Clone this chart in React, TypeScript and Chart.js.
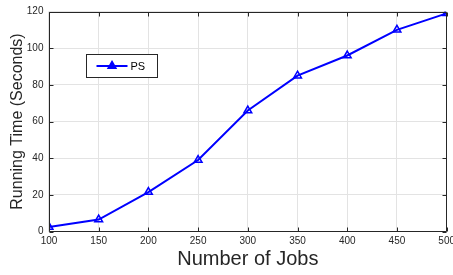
import React, { useEffect, useRef } from "react";
import { Chart, registerables } from "chart.js";

Chart.register(...registerables);

const jobs = [100, 150, 200, 250, 300, 350, 400, 450, 500];
const psTimes = [2.5, 6.5, 21.5, 39, 66, 85, 96, 110, 119];
const seriesLabel = "PS";
const xTitle = "Number of Jobs";
const yTitle = "Running Time (Seconds)";

const FONT = "'Liberation Sans', Arial, Helvetica, sans-serif";
const AXIS_COLOR = "#262626";
const BLUE = "#0000ff";

const boxPlugin = {
  id: "matlabBox",
  afterDraw(chart: any) {
    const { ctx, chartArea } = chart;
    const { left, right, top, bottom } = chartArea;
    const xs = chart.scales.x;
    const ys = chart.scales.y;
    const L = Math.round(left) + 0.5;
    const R = Math.round(right) - 0.5;
    const T = Math.round(top) + 0.5;
    const B = Math.round(bottom) - 0.5;
    ctx.save();
    ctx.strokeStyle = AXIS_COLOR;
    ctx.lineWidth = 1;
    ctx.beginPath();
    ctx.rect(L, T, R - L, B - T);
    ctx.stroke();
    const tl = 4;
    ctx.beginPath();
    xs.ticks.forEach((t: any) => {
      const px = Math.round(xs.getPixelForValue(t.value)) + 0.5;
      ctx.moveTo(px, B);
      ctx.lineTo(px, B - tl);
      ctx.moveTo(px, T);
      ctx.lineTo(px, T + tl);
    });
    ys.ticks.forEach((t: any) => {
      const py = Math.round(ys.getPixelForValue(t.value)) + 0.5;
      ctx.moveTo(L, py);
      ctx.lineTo(L + tl, py);
      ctx.moveTo(R, py);
      ctx.lineTo(R - tl, py);
    });
    ctx.stroke();

    // legend box
    const lx = Math.round(left + 37) + 0.5;
    const ly = Math.round(top + 42) + 0.5;
    const lw = 71;
    const lh = 23;
    ctx.fillStyle = "#ffffff";
    ctx.fillRect(lx, ly, lw, lh);
    ctx.strokeStyle = AXIS_COLOR;
    ctx.strokeRect(lx, ly, lw, lh);
    const cy = ly + lh / 2;
    ctx.strokeStyle = BLUE;
    ctx.lineWidth = 2;
    ctx.beginPath();
    ctx.moveTo(lx + 10, cy);
    ctx.lineTo(lx + 41, cy);
    ctx.stroke();
    const cx = lx + 25.5;
    const r = 4.5;
    ctx.lineWidth = 1.5;
    ctx.fillStyle = BLUE;
    ctx.beginPath();
    ctx.moveTo(cx, cy - r);
    ctx.lineTo(cx + r * 0.87, cy + r * 0.5);
    ctx.lineTo(cx - r * 0.87, cy + r * 0.5);
    ctx.closePath();
    ctx.fill();
    ctx.stroke();
    ctx.fillStyle = "#000000";
    ctx.font = `11px ${FONT}`;
    ctx.textBaseline = "middle";
    ctx.textAlign = "left";
    ctx.fillText(seriesLabel, lx + 44, cy + 0.5);
    ctx.restore();
  },
};

export default function App() {
  const ref = useRef<HTMLCanvasElement | null>(null);
  useEffect(() => {
    if (!ref.current) return;
    const chart = new Chart(ref.current, {
      type: "line",
      data: {
        datasets: [
          {
            label: seriesLabel,
            data: jobs.map((x, i) => ({ x, y: psTimes[i] })),
            borderColor: BLUE,
            borderWidth: 2,
            pointStyle: "triangle",
            pointRadius: 4.5,
            pointBorderWidth: 1.5,
            pointBorderColor: BLUE,
            pointBackgroundColor: "rgba(0,0,0,0)",
            tension: 0,
          },
        ],
      },
      options: {
        animation: false,
        responsive: false,
        layout: { padding: { left: 7.8, top: 11, right: 0, bottom: 3.5 } },
        plugins: { legend: { display: false }, tooltip: { enabled: false } },
        scales: {
          x: {
            type: "linear",
            min: 100,
            max: 500,
            ticks: { stepSize: 50, color: AXIS_COLOR, font: { family: FONT, size: 10 }, padding: 4 },
            grid: { color: "#e3e3e3", drawTicks: false },
            border: { display: false },
            title: { display: true, text: xTitle, color: AXIS_COLOR, font: { family: FONT, size: 20 }, padding: { top: -4, bottom: 0 } },
          },
          y: {
            min: 0,
            max: 120,
            ticks: { stepSize: 20, color: AXIS_COLOR, font: { family: FONT, size: 10 }, padding: 5.5 },
            grid: { color: "#e3e3e3", drawTicks: false },
            border: { display: false },
            title: { display: true, text: yTitle, color: AXIS_COLOR, font: { family: FONT, size: 16 }, padding: { top: 0, bottom: -5.7 } },
          },
        },
      },
      plugins: [boxPlugin],
    });
    return () => chart.destroy();
  }, []);
  return (
    <div style={{ position: "fixed", left: 0, top: 0, width: 453, height: 275, overflow: "hidden", background: "#fff" }}>
      <canvas ref={ref} width={459} height={275} style={{ display: "block" }} />
    </div>
  );
}
